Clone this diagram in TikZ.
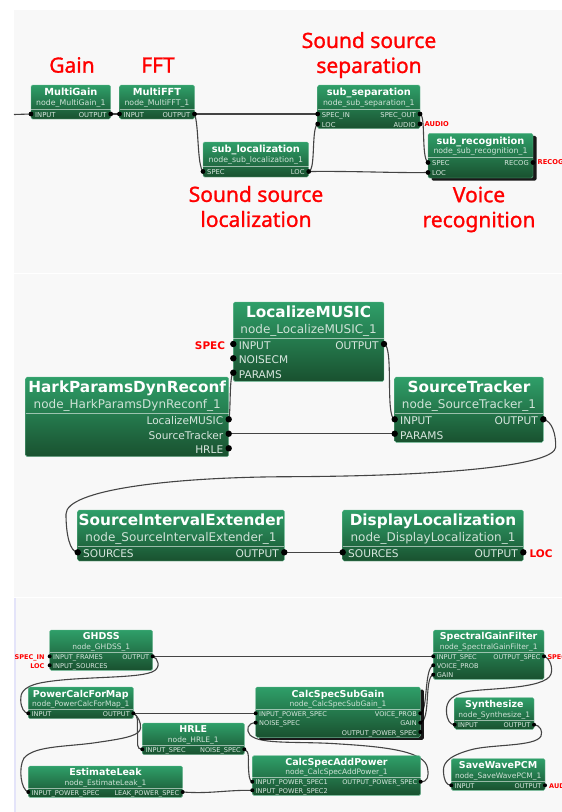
\documentclass[tikz,border=0pt]{standalone}
\usepackage{fontspec}
\setmainfont{DejaVu Sans}
\newfontfamily\redfont[FakeBold=1.2]{Noto Sans}
\usetikzlibrary{shadows,backgrounds}
\definecolor{panel}{HTML}{F8F8F8}
\definecolor{wire}{HTML}{444444}
\definecolor{gtop}{HTML}{2F9F69}
\definecolor{gbot}{HTML}{19512F}
\definecolor{subtxt}{HTML}{CFE2D7}
\definecolor{porttxt}{HTML}{D8E6DE}
\tikzset{
  hbox/.style={rectangle,rounded corners=1.5pt,draw=gtop!70!white,line width=.4pt,top color=gtop,bottom color=gbot,inner sep=0pt,outer sep=0pt},
  hshadow/.style={general shadow={shadow xshift=3.5pt,shadow yshift=-2.5pt,fill=black,opacity=.9}},
  hsep/.style={draw=white,opacity=.55,line width=.5pt},
  htitle/.style={text=white,inner sep=0pt,font=\bfseries\fontsize{\tsz}{\tsz}\selectfont,text height=\tht,text depth=0pt},
  hsub/.style={text=subtxt,inner sep=0pt,font=\fontsize{\ssz}{\ssz}\selectfont,text height=\sht,text depth=0pt},
  hlabel/.style={text=porttxt,inner sep=0pt,font=\fontsize{\psz}{\psz}\selectfont,text height=\pht,text depth=0pt},
  hport/.style={circle,fill=black,inner sep=0pt,minimum size=\prad},
  wired/.style={draw=wire,line width=1.1pt},
  bigred/.style={text=red,align=center,inner sep=0pt,font=\redfont\fontsize{21}{25}\selectfont},
  smallred/.style 2 args={text=red,inner sep=0pt,font=\bfseries\fontsize{#1}{#1}\selectfont,text height=#2,text depth=0pt},
}
% id x0 y0 x1 y1 titleY subY sepY title
\newcommand{\hnode}[9]{%
  \pgfmathsetmacro{\wdd}{#4-#2}\pgfmathsetmacro{\htt}{#5-#3}%
  \pgfmathsetmacro{\cxx}{(#2+#4)/2}\pgfmathsetmacro{\cyy}{(#3+#5)/2}%
  \node[hbox,\boxextra,minimum width=\wdd pt,minimum height=\htt pt] (#1) at (\cxx,\cyy) {};
  \draw[hsep] (#2,#8) -- (#4,#8);
  \node[htitle] (#1-t) at (\cxx,#6) {#9};
  \node[hsub] (#1-s) at (\cxx,#7) {node\_#9\_1};
}
\newcommand{\portL}[4]{%
  \node[hport] (#1) at (#2,#3) {};
  \node[hlabel,anchor=west,xshift=\poff,yshift=-\loff] (#1-l) at (#2,#3) {#4};
}
\newcommand{\portR}[4]{%
  \node[hport] (#1) at (#2,#3) {};
  \node[hlabel,anchor=east,xshift=-\poff,yshift=-\loff] (#1-l) at (#2,#3) {#4};
}
\def\boxextra{}
\begin{document}
\begin{tikzpicture}[x=1pt,y=-1pt]
\useasboundingbox (0,0) rectangle (562,812);
\begin{scope}[on background layer]
  \fill[white] (0,0) rectangle (562,812);
  \fill[panel] (14,10) rectangle (562,272.5);
  \fill[panel] (14,274) rectangle (562,597);
  \fill[panel] (14,598) rectangle (562,812);
  \fill[blue!8!panel] (14,598) rectangle (16,812);
\end{scope}

% ---------- section 1
\def\tsz{9.8}\def\ssz{7.8}\def\psz{6.8}\def\prad{4.8pt}\def\poff{4pt}\def\loff{.7pt}
\def\tht{7.2pt}\def\sht{5.8pt}\def\pht{5pt}
\node[bigred] (lgain) at (72,65) {Gain};
\node[bigred] (lfft) at (158,65) {FFT};
\node[bigred] (lsep) at (369,55) {Sound source\\separation};
\node[bigred] (lloc) at (256,206.5) {Sound source\\localization};
\node[bigred] (lrec) at (479,209.5) {Voice\\recognition};

\hnode{mg}{31}{85}{110.7}{119}{92}{103}{109}{MultiGain}
\portL{mg-in}{31}{114}{INPUT}
\portR{mg-out}{110.7}{114}{OUTPUT}
\hnode{mf}{119.5}{85}{194.5}{119}{92}{103}{109}{MultiFFT}
\portL{mf-in}{119.5}{114}{INPUT}
\portR{mf-out}{194.5}{114}{OUTPUT}
\hnode{sl}{203}{142}{308.7}{177}{149}{160}{166.5}{sub\_localization}
\portL{sl-in}{203}{171.5}{SPEC}
\portR{sl-out}{308.7}{171.5}{LOC}
\hnode{ss}{317.7}{85}{420}{128.7}{92}{103}{109}{sub\_separation}
\portL{ss-in}{317.7}{114}{SPEC\_IN}
\portL{ss-loc}{317.7}{124}{LOC}
\portR{ss-out}{420}{114}{SPEC\_OUT}
\portR{ss-au}{420}{124}{AUDIO}
\def\boxextra{hshadow}
\hnode{sr}{428}{133.3}{533}{178}{140.5}{151}{157.5}{sub\_recognition}
\def\boxextra{}
\portL{sr-in}{428}{162.5}{SPEC}
\portL{sr-loc}{428}{172.5}{LOC}
\portR{sr-out}{533}{162.5}{RECOG}
\node[smallred={6.7}{4.9pt},anchor=west] (raudio) at (424.5,124) {AUDIO};
\node[smallred={6.7}{4.9pt},anchor=west] (rrecog) at (537.5,162.5) {RECOG};
\coordinate (c-left) at (14,114.5);

% ---------- section 2
\def\tsz{15.3}\def\ssz{12}\def\psz{10.6}\def\prad{6.4pt}\def\poff{5.3pt}\def\loff{1.6pt}
\def\tht{11.2pt}\def\sht{8.9pt}\def\pht{7.8pt}
\hnode{lm}{233.3}{302}{384}{381.3}{312}{329}{338}{LocalizeMUSIC}
\portL{lm-in}{233.3}{344}{INPUT}
\portL{lm-ns}{233.3}{358.3}{NOISECM}
\portL{lm-pa}{233.3}{372.7}{PARAMS}
\portR{lm-out}{384}{344}{OUTPUT}
\hnode{hp}{25.7}{377}{228.7}{456.7}{387}{404}{413.7}{HarkParamsDynReconf}
\portR{hp-lm}{228.7}{419.3}{LocalizeMUSIC}
\portR{hp-st}{228.7}{433.7}{SourceTracker}
\portR{hp-hr}{228.7}{448.3}{HRLE}
\hnode{st}{394.7}{377}{543.3}{442.3}{387}{404}{413.7}{SourceTracker}
\portL{st-in}{394.7}{419.3}{INPUT}
\portL{st-pa}{394.7}{433.7}{PARAMS}
\portR{st-out}{543.3}{419.3}{OUTPUT}
\hnode{si}{77.7}{510}{284.3}{561}{520.3}{537.3}{546}{SourceIntervalExtender}
\portL{si-in}{77.7}{552.3}{SOURCES}
\portR{si-out}{284.3}{552.3}{OUTPUT}
\hnode{dl}{342.7}{510}{523.3}{561}{520.3}{537.3}{546}{DisplayLocalization}
\portL{dl-in}{342.7}{552.3}{SOURCES}
\portR{dl-out}{523.3}{552.3}{OUTPUT}
\node[smallred={10.5}{7.7pt},anchor=east] (rspec) at (225.3,345.5) {SPEC};
\node[smallred={10.5}{7.7pt},anchor=west] (rloc) at (529.3,553.5) {LOC};

% ---------- section 3
\def\tsz{9.5}\def\ssz{7.5}\def\psz{6.6}\def\prad{4pt}\def\poff{3.3pt}\def\loff{.6pt}
\def\tht{7pt}\def\sht{5.6pt}\def\pht{4.9pt}
\hnode{gh}{49.7}{630}{152.7}{670.3}{636}{646.7}{652}{GHDSS}
\portL{gh-in}{49.7}{656.3}{INPUT\_FRAMES}
\portL{gh-so}{49.7}{665.3}{INPUT\_SOURCES}
\portR{gh-out}{152.7}{656.3}{OUTPUT}
\hnode{pc}{28.3}{687}{133.3}{718.7}{693.7}{704}{709.5}{PowerCalcForMap}
\portL{pc-in}{28.3}{713.3}{INPUT}
\portR{pc-out}{133.3}{713.3}{OUTPUT}
\hnode{hr}{142.3}{723}{244.3}{754.7}{729.3}{739.7}{745}{HRLE}
\portL{hr-in}{142.3}{749.3}{INPUT\_SPEC}
\portR{hr-out}{244.3}{749.3}{NOISE\_SPEC}
\hnode{el}{28.3}{766}{182.7}{797.3}{772.3}{782.7}{788}{EstimateLeak}
\portL{el-in}{28.3}{792}{INPUT\_POWER\_SPEC}
\portR{el-out}{182.7}{792}{LEAK\_POWER\_SPEC}
\hnode{sg}{433.3}{630}{544}{679.3}{636}{646.5}{652}{SpectralGainFilter}
\portL{sg-in}{433.3}{656.3}{INPUT\_SPEC}
\portL{sg-vp}{433.3}{665.3}{VOICE\_PROB}
\portL{sg-ga}{433.3}{674.7}{GAIN}
\portR{sg-out}{544}{656.3}{OUTPUT\_SPEC}
\def\boxextra{hshadow}
\hnode{cg}{255.7}{687}{420.3}{737.3}{693.7}{704}{709.5}{CalcSpecSubGain}
\def\boxextra{}
\portL{cg-in}{255.7}{713.3}{INPUT\_POWER\_SPEC}
\portL{cg-ns}{255.7}{722.7}{NOISE\_SPEC}
\portR{cg-vp}{420.3}{713.3}{VOICE\_PROB}
\portR{cg-ga}{420.3}{722.7}{GAIN}
\portR{cg-op}{420.3}{732}{OUTPUT\_POWER\_SPEC}
\hnode{ca}{252.3}{755.7}{420.7}{795.3}{761.7}{772}{777.5}{CalcSpecAddPower}
\portL{ca-i1}{252.3}{781.7}{INPUT\_POWER\_SPEC1}
\portL{ca-i2}{252.3}{790.3}{INPUT\_POWER\_SPEC2}
\portR{ca-out}{420.7}{781.7}{OUTPUT\_POWER\_SPEC}
\hnode{sy}{454.7}{697.7}{534}{729.3}{704.3}{715}{720.5}{Synthesize}
\portL{sy-in}{454.7}{724.7}{INPUT}
\portR{sy-out}{534}{724.7}{OUTPUT}
\hnode{sw}{451.3}{758.7}{545}{790.3}{765}{775.3}{781}{SaveWavePCM}
\portL{sw-in}{451.3}{785.3}{INPUT}
\portR{sw-out}{545}{785.3}{OUTPUT}
\node[smallred={6.5}{4.8pt},anchor=east] (rsi) at (44.7,656.7) {SPEC\_IN};
\node[smallred={6.5}{4.8pt},anchor=east] (rl3) at (44.7,665.7) {LOC};
\node[smallred={6.5}{4.8pt},anchor=west] (rso) at (547.3,656.7) {SPEC};
\node[smallred={6.5}{4.8pt},anchor=west] (ra3) at (549,785.7) {AUDIO};

% ---------- connectors
\begin{scope}[on background layer]
  % section 1
  \draw[wired] (c-left) -- (mg-in.center);
  \draw[wired] (mg-out.center) -- (mf-in.center);
  \draw[wired] (mf-out.center) -- (ss-in.center);
  \draw[wired] (mf-out.center) .. controls (199,125) and (197,165) .. (sl-in.center);
  \draw[wired] (sl-out.center) .. controls (316,170) and (311,128) .. (ss-loc.center);
  \draw[wired] (sl-out.center) .. controls (360,171) and (390,173) .. (sr-loc.center);
  \draw[wired] (ss-out.center) .. controls (426,115) and (421,158) .. (sr-in.center);
  % section 2
  \draw[wired] (hp-lm.center) .. controls (231,412) and (229,376) .. (lm-pa.center);
  \draw[wired] (hp-st.center) -- (st-pa.center);
  \draw[wired] (lm-out.center) .. controls (394,346) and (385,417) .. (st-in.center);
  \draw[wired] (st-out.center) .. controls (552,421) and (556,434) .. (555.7,447)
     .. controls (555,465) and (450,476) .. (290,476.7)
     .. controls (170,477) and (66,490) .. (66,514)
     .. controls (66,535) and (70,552) .. (si-in.center);
  \draw[wired] (si-out.center) -- (dl-in.center);
  % section 3
  \draw[wired] (gh-out.center) -- (sg-in.center);
  \draw[wired] (gh-out.center) .. controls (158,658) and (162,668) .. (152,672)
     .. controls (135,679) and (75,676) .. (40,683)
     .. controls (22,687) and (20.5,694) .. (20.7,700)
     .. controls (21,708) and (24,713) .. (pc-in.center);
  \draw[wired] (pc-out.center) -- (cg-in.center);
  \draw[wired] (pc-out.center) .. controls (139,715) and (137,722) .. (137.5,732)
     .. controls (138,745) and (136,749) .. (hr-in.center);
  \draw[wired] (pc-out.center) .. controls (138,716) and (141,722) .. (140.5,728)
     .. controls (140,735) and (128,738) .. (100,742)
     .. controls (70,747) and (35,745) .. (24,758)
     .. controls (18,768) and (21,790) .. (el-in.center);
  \draw[wired] (hr-out.center) .. controls (250,751) and (248,760) .. (248.5,768)
     .. controls (249,775) and (249,781) .. (ca-i1.center);
  \draw[wired] (el-out.center) .. controls (210,794) and (225,790) .. (ca-i2.center);
  \draw[wired] (ca-out.center) .. controls (428,782) and (429,776) .. (427.5,768)
     .. controls (425,752) and (390,747) .. (340,744)
     .. controls (300,741) and (260,745) .. (250,735)
     .. controls (246,730) and (247,723) .. (cg-ns.center);
  \draw[wired] (cg-vp.center) .. controls (428,712) and (424,668) .. (sg-vp.center);
  \draw[wired] (cg-ga.center) .. controls (431,720) and (424,677) .. (sg-ga.center);
  \draw[wired] (sg-out.center) .. controls (550,658) and (553,668) .. (551,674)
     .. controls (546,690) and (480,688) .. (465,692)
     .. controls (448,696) and (446,705) .. (446.5,712)
     .. controls (447,720) and (450,724.7) .. (sy-in.center);
  \draw[wired] (sy-out.center) .. controls (540,725) and (543,731) .. (541,736)
     .. controls (536,747) and (490,744) .. (470,750)
     .. controls (445,757) and (443,765) .. (443.5,772)
     .. controls (444,780) and (446,785.3) .. (sw-in.center);
\end{scope}
\end{tikzpicture}
\end{document}
